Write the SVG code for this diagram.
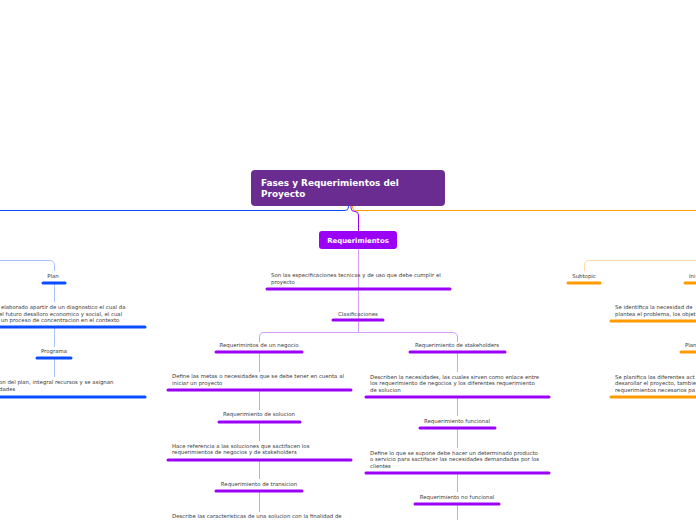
<svg xmlns="http://www.w3.org/2000/svg" width="696" height="520" viewBox="0 0 696 520">
<style>
.t{font-family:"DejaVu Sans",Verdana,sans-serif;font-size:5.4px;fill:#3a3a3a}
.c{text-anchor:middle}
.bp{stroke:#9b00f7;stroke-width:3;stroke-linecap:round}
.bb{stroke:#0a4cff;stroke-width:3;stroke-linecap:round}
.bo{stroke:#ff9a00;stroke-width:3;stroke-linecap:round}
.lp{fill:none;stroke:#d49cff;stroke-width:1}
.lb{fill:none;stroke:#a9c2ff;stroke-width:1}
.lo{fill:none;stroke:#ffdca8;stroke-width:1}
</style>
<rect width="696" height="520" fill="#fff"/>
<g id="connectors">
<path d="M0,210.5 H345 Q348.5,210.5 348.5,207 V206" fill="none" stroke="#0a4cff" stroke-width="1"/>
<path d="M696,210.5 H356 Q352.5,210.5 352.5,206" fill="none" stroke="#ff9a00" stroke-width="1"/>
<path d="M351,206 V208 Q351,211.5 355,211.5 Q358.5,211.5 358.5,215 V231" fill="none" stroke="#9b00f7" stroke-width="1"/>
<path class="lp" d="M358.5,249 V289 M358.5,289 V320 M358.5,320 V332 M259.5,342 V337 Q259.5,332.5 264,332.5 H452 Q457.5,332.5 457.5,337 V342"/>
<path class="lp" d="M259.5,352 V372 M259.5,390 V410 M259.5,422 V441 M259.5,460 V479 M259.5,491 V512"/>
<path class="lp" d="M457.5,352 V372 M457.5,397 V416 M457.5,428 V448 M457.5,473 V492 M457.5,504 V520"/>
<path class="lb" d="M0,260.5 H49 Q54.5,260.5 54.5,265 V271 M54.5,283 V302 M54.5,327 V347 M54.5,358 V377"/>
<path class="lo" d="M696,260.5 H589 Q584.5,260.5 584.5,265 V271"/>
</g>
<g id="root">
<rect x="251" y="170" width="194" height="36" rx="4" fill="#6a2c91"/>
<text x="261" y="186" font-family="DejaVu Sans,Verdana,sans-serif" font-weight="bold" font-size="8.9" fill="#fff">Fases y Requerimientos del</text>
<text x="261" y="197" font-family="DejaVu Sans,Verdana,sans-serif" font-weight="bold" font-size="8.9" fill="#fff">Proyecto</text>
</g>
<g id="requerimientos">
<rect x="319" y="231" width="78" height="18" rx="3" fill="#9b00f7"/>
<text x="358" y="243" text-anchor="middle" font-family="DejaVu Sans,Verdana,sans-serif" font-weight="bold" font-size="6.9" fill="#fff">Requerimientos</text>
</g>
<g id="son-las">
<text class="t" x="271" y="277">Son las especificaciones tecnicas y de uso que debe cumplir el</text>
<text class="t" x="271" y="284">proyecto</text>
<line class="bp" x1="267" y1="289" x2="450" y2="289"/>
</g>
<g id="clasificaciones">
<text class="t c" x="358" y="316">Clasificaciones</text>
<line class="bp" x1="333" y1="320" x2="383" y2="320"/>
</g>
<g id="req-negocio">
<text class="t c" x="259" y="347">Requerimintos de un negocio</text>
<line class="bp" x1="216" y1="352" x2="302" y2="352"/>
</g>
<g id="define-metas">
<text class="t" x="172" y="378">Define las metas o necesidades que se debe tener en cuenta al</text>
<text class="t" x="172" y="384.5">iniciar un proyecto</text>
<line class="bp" x1="168" y1="390" x2="351" y2="390"/>
</g>
<g id="req-solucion">
<text class="t c" x="259" y="416">Requerimiento de solucion</text>
<line class="bp" x1="219" y1="422" x2="300" y2="422"/>
</g>
<g id="hace-referencia">
<text class="t" x="172" y="447.5">Hace referencia a las soluciones que sactifacen los</text>
<text class="t" x="172" y="454">requerimientos de negocios y de stakeholders</text>
<line class="bp" x1="168" y1="460" x2="351" y2="460"/>
</g>
<g id="req-transicion">
<text class="t c" x="259" y="485.5">Requerimiento de transicion</text>
<line class="bp" x1="216" y1="491" x2="302" y2="491"/>
</g>
<g id="describe">
<text class="t" x="172" y="518">Describe las caracteristicas de una solucion con la finalidad de</text>
</g>
<g id="req-stakeholders">
<text class="t c" x="457" y="347">Requerimiento de stakeholders</text>
<line class="bp" x1="410" y1="352" x2="505" y2="352"/>
</g>
<g id="describen">
<text class="t" x="370" y="378.5">Describen la necesidades, las cuales sirven como enlace entre</text>
<text class="t" x="370" y="385">los requerimiento de negocios y los diferentes requerimiento</text>
<text class="t" x="370" y="391.5">de solucion</text>
<line class="bp" x1="366" y1="397" x2="549" y2="397"/>
</g>
<g id="req-funcional">
<text class="t c" x="457" y="422.5">Requerimiento funcional</text>
<line class="bp" x1="420" y1="428" x2="495" y2="428"/>
</g>
<g id="define-lo">
<text class="t" x="370" y="454.5">Define lo que se supone debe hacer un determinado producto</text>
<text class="t" x="370" y="461">o servicio para sactifacer las necesidades demandadas por los</text>
<text class="t" x="370" y="467.5">clientes</text>
<line class="bp" x1="366" y1="473" x2="549" y2="473"/>
</g>
<g id="req-no-funcional">
<text class="t c" x="457" y="498.5">Requerimiento no funcional</text>
<line class="bp" x1="415" y1="504" x2="499" y2="504"/>
</g>
<g id="plan">
<text class="t c" x="53" y="277.5">Plan</text>
<line class="bb" x1="43" y1="283" x2="65" y2="283"/>
</g>
<g id="plan-desc">
<text class="t" x="1" y="309">elaborado apartir de un diagnostico el cual da</text>
<text class="t" x="-1" y="315.5">el futuro desalloro economico y social, el cual</text>
<text class="t" x="1" y="322">un proceso de concentracion en el contexto</text>
<line class="bb" x1="0" y1="327" x2="145" y2="327"/>
</g>
<g id="programa">
<text class="t c" x="54" y="353">Programa</text>
<line class="bb" x1="37" y1="358" x2="71" y2="358"/>
</g>
<g id="programa-desc">
<text class="t" x="-1" y="384">on del plan, integral recursos y se asignan</text>
<text class="t" x="-1" y="390.5">dades</text>
<line class="bb" x1="0" y1="397" x2="145" y2="397"/>
</g>
<g id="subtopic">
<text class="t c" x="584" y="277.5">Subtopic</text>
<line class="bo" x1="568" y1="283" x2="600" y2="283"/>
</g>
<g id="inicio">
<text class="t" x="689" y="277.5">Ini</text>
<line class="bo" x1="685" y1="283" x2="697" y2="283"/>
</g>
<g id="inicio-desc">
<text class="t" x="615" y="309">Se identifica la necesidad de</text>
<text class="t" x="615" y="315.5">plantea el problema, los objet</text>
<line class="bo" x1="611" y1="321" x2="697" y2="321"/>
</g>
<g id="planificacion">
<text class="t" x="685" y="346.5">Plan</text>
<line class="bo" x1="681" y1="352" x2="697" y2="352"/>
</g>
<g id="planificacion-desc">
<text class="t" x="615" y="378.5">Se planifica las diferentes act</text>
<text class="t" x="615" y="385">desarollar el proyecto, tambie</text>
<text class="t" x="615" y="391.5">requerimientos necesarios pa</text>
<line class="bo" x1="611" y1="397" x2="697" y2="397"/>
</g>
</svg>
